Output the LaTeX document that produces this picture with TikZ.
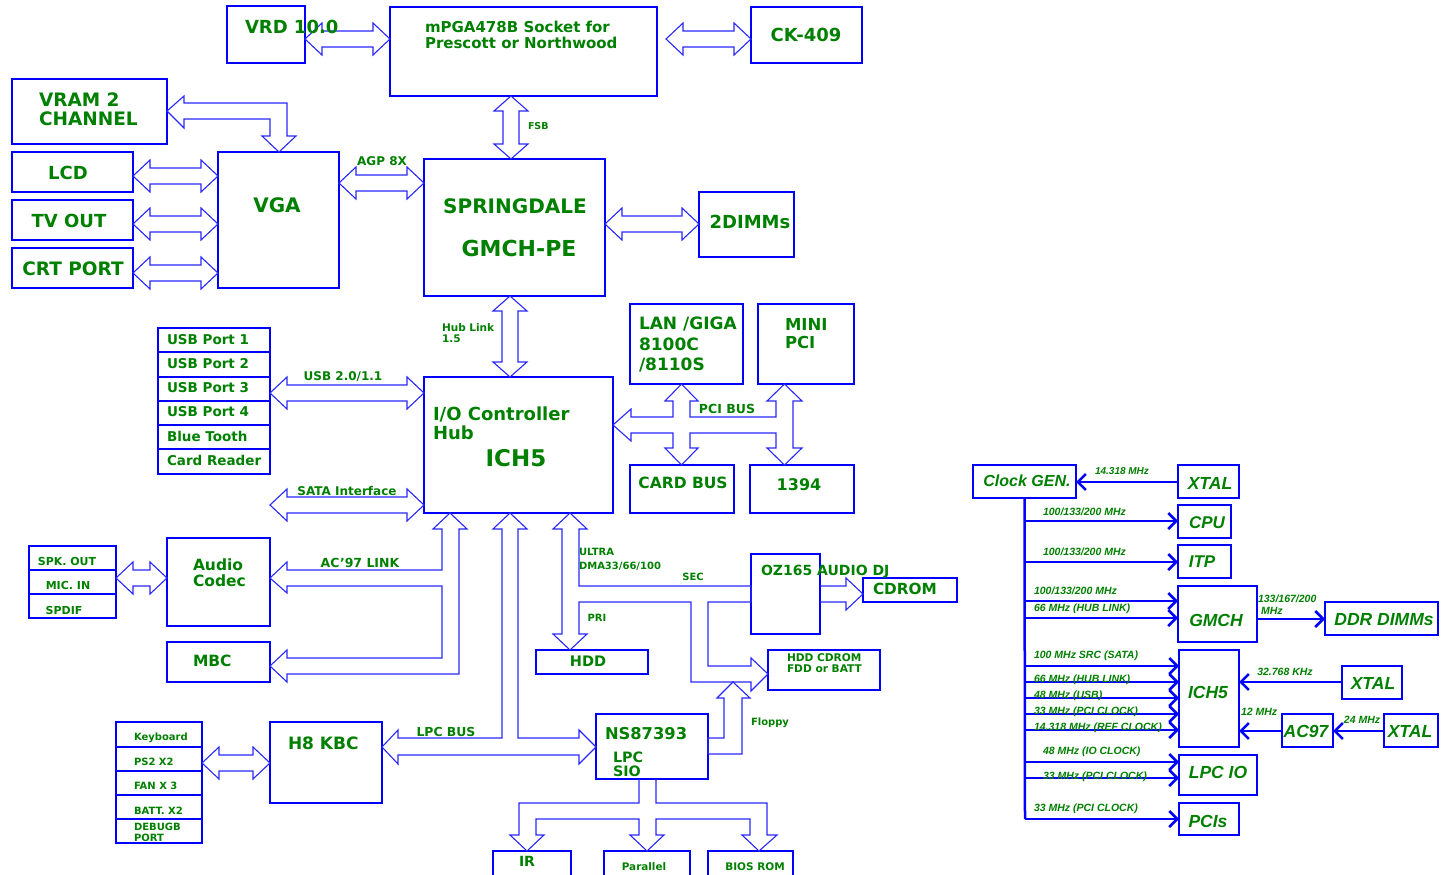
\documentclass[tikz,border=0pt]{standalone}
\usepackage{fontspec}
\setmainfont{DejaVu Sans}
\newfontfamily\libsans{Liberation Sans}
\usetikzlibrary{calc,arrows.meta}
\definecolor{tg}{RGB}{0,128,0}
\definecolor{bb}{RGB}{0,0,255}
\definecolor{ab}{RGB}{40,40,255}
\newcommand\fs[1]{\fontsize{#1}{#1}\selectfont\bfseries}
\newcommand\cfs[1]{\libsans\fontsize{#1}{#1}\selectfont\bfseries\itshape}
\tikzset{
 box/.style={draw=bb,line width=2.5pt,rectangle,inner sep=0pt,outer sep=0pt},
 txt/.style={text=tg,inner sep=0pt,outer sep=0pt},
 barrow/.style={draw=ab,line width=1.1pt,line join=miter},
 clk/.style={draw=bb,line width=2.5pt},
 clkarr/.style={clk,-{Straight Barb[length=8pt,width=16pt]}},
}
\newcommand\bx[6][]{\node[box,#1,minimum width={(#4-#2)*1pt},minimum height={(#5-#3)*1pt}] (#6) at ({(#2+#4)/2},{(#3+#5)/2}) {};}
\newcommand\tx[6][]{\node[txt,#1,font=\fs{#2}] (#3) at (#4,#5) {#6};}
\newcommand\ct[6][]{\node[txt,#1,font=\cfs{#2}] (#3) at (#4,#5) {#6};}
\newcommand\HDA[3]{\draw[barrow] let \p1=(#1), \p2=(#2) in
 (\x1,-#3pt) -- (\x1+17pt,-#3pt+16pt) -- (\x1+17pt,-#3pt+8pt) -- (\x2-17pt,-#3pt+8pt) -- (\x2-17pt,-#3pt+16pt) -- (\x2,-#3pt) -- (\x2-17pt,-#3pt-16pt) -- (\x2-17pt,-#3pt-8pt) -- (\x1+17pt,-#3pt-8pt) -- (\x1+17pt,-#3pt-16pt) -- cycle;}
\newcommand\VDA[3]{\draw[barrow] let \p1=(#1), \p2=(#2) in
 (#3pt,\y1) -- (#3pt+17pt,\y1-15pt) -- (#3pt+8pt,\y1-15pt) -- (#3pt+8pt,\y2+15pt) -- (#3pt+17pt,\y2+15pt) -- (#3pt,\y2) -- (#3pt-17pt,\y2+15pt) -- (#3pt-8pt,\y2+15pt) -- (#3pt-8pt,\y1-15pt) -- (#3pt-17pt,\y1-15pt) -- cycle;}
\begin{document}
\begin{tikzpicture}[x=1pt,y=-1pt]
\useasboundingbox (0,0) rectangle (1443,875);
\fill[white] (0,0) rectangle (1443,875);
\clip (0,0) rectangle (1443,875);
% ---------- boxes ----------
\bx{227}{6}{305}{63}{vrd}
\bx{390}{7}{657}{96}{mpga}
\bx{751}{7}{862}{63}{ck}
\bx{12}{79}{167}{144}{vram}
\bx{12}{152}{133}{192}{lcd}
\bx{12}{200}{133}{240}{tvout}
\bx{12}{248}{133}{288}{crt}
\bx{218}{152}{339}{288}{vga}
\bx{424}{159}{605}{296}{gmch}
\bx{699}{192}{794}{257}{dimm}
\bx{158}{328}{270}{352}{usbA}
\bx{158}{352}{270}{377}{usbB}
\bx{158}{377}{270}{401}{usbC}
\bx{158}{401}{270}{425}{usbD}
\bx{158}{425}{270}{449}{bt}
\bx{158}{449}{270}{474}{cr}
\bx{424}{377}{613}{513}{ich}
\bx{630}{304}{743}{384}{lan}
\bx{758}{304}{854}{384}{mini}
\bx{630}{465}{734}{513}{card}
\bx{750}{465}{854}{513}{fw}
\bx{29}{546}{116}{570}{spk}
\bx{29}{570}{116}{594}{mic}
\bx{29}{594}{116}{618}{spdif}
\bx{167}{538}{270}{626}{audio}
\bx{167}{642}{270}{682}{mbc}
\bx{536}{650}{648}{674}{hdd}
\bx{751}{554}{820}{634}{oz}
\bx{863}{578}{957}{602}{cdrom}
\bx{768}{650}{880}{690}{hddcd}
\bx{116}{722}{202}{747}{kbd}
\bx{116}{747}{202}{771}{ps2}
\bx{116}{771}{202}{795}{fan}
\bx{116}{795}{202}{819}{batt}
\bx{116}{819}{202}{843}{dbg}
\bx{270}{722}{382}{803}{kbc}
\bx{596}{714}{708}{779}{sio}
\bx{493}{851}{571}{905}{ir}
\bx{604}{851}{690}{905}{par}
\bx{708}{851}{793}{905}{bios}
% clock section boxes
\bx{973}{465}{1076}{498}{cgen}
\bx{1178}{465}{1239}{498}{xtA}
\bx{1178}{505}{1231}{538}{cpu}
\bx{1178}{545}{1231}{578}{itp}
\bx{1178}{586}{1257}{642}{cgm}
\bx{1325}{602}{1438}{635}{ddr}
\bx{1179}{650}{1239}{747}{cich}
\bx{1342}{666}{1402}{699}{xtB}
\bx{1282}{714}{1333}{747}{ac}
\bx{1384}{714}{1438}{747}{xtC}
\bx{1179}{755}{1257}{795}{lpcio}
\bx{1179}{803}{1239}{835}{pcis}
% ---------- block arrows ----------
\HDA{vrd.east}{mpga.west}{39}
\HDA{$(mpga.east)+(9,0)$}{ck.west}{39}
\draw[barrow] (vram.east |- 0,111) -- (184,96) -- (184,103) -- (287,103) -- (287,136) -- (296,136) -- (279,152) -- (262,136) -- (270,136) -- (270,119) -- (184,119) -- (184,128) -- cycle;
\HDA{lcd.east}{vga.west}{176}
\HDA{tvout.east}{vga.west}{224}
\HDA{crt.east}{vga.west}{273}
\HDA{vga.east}{gmch.west}{183}
\VDA{mpga.south}{gmch.north}{511}
\HDA{gmch.east}{dimm.west}{224}
\VDA{gmch.south}{ich.north}{510}
\HDA{usbC.east}{ich.west}{393}
\coordinate (sataL) at (270,505);
\HDA{sataL}{ich.west}{505}
\draw[barrow] (ich.east |- 0,425) -- (631,409) -- (631,417) -- (673,417) -- (673,401) -- (665,401) -- (681.5,384) -- (698,401) -- (690,401) -- (690,417) -- (776,417) -- (776,401) -- (767,401) -- (784.5,384) -- (802,401) -- (793,401) -- (793,448) -- (802,448) -- (784.5,465) -- (767,448) -- (776,448) -- (776,433) -- (690,433) -- (690,448) -- (698,448) -- (681.5,465) -- (665,448) -- (673,448) -- (673,433) -- (631,433) -- (631,441) -- cycle;
\HDA{mic.east}{audio.west}{578}
\draw[barrow] (450,513) -- (467,529) -- (459,529) -- (459,674) -- (287,674) -- (287,682) -- (270,666) -- (287,650) -- (287,658) -- (442,658) -- (442,586) -- (287,586) -- (287,593) -- (270,578) -- (287,562) -- (287,570) -- (442,570) -- (442,529) -- (433,529) -- cycle;
\draw[barrow] (510,513) -- (527,529) -- (518,529) -- (518,738) -- (579,738) -- (579,730) -- (596,747) -- (579,764) -- (579,755) -- (398,755) -- (398,764) -- (382,747) -- (398,730) -- (398,738) -- (502,738) -- (502,529) -- (493,529) -- cycle;
\draw[barrow] (570,513) -- (587,529) -- (579,529) -- (579,586) -- (751,586) -- (751,602) -- (708,602) -- (708,666) -- (751,666) -- (751,658) -- (768,674) -- (751,691) -- (751,682) -- (691,682) -- (691,602) -- (579,602) -- (579,634) -- (587,634) -- (570,650) -- (553,634) -- (562,634) -- (562,529) -- (553,529) -- cycle;
\draw[barrow] (733,682) -- (750,698) -- (742,698) -- (742,754) -- (708,754) -- (708,738) -- (724,738) -- (724,698) -- (717,698) -- cycle;
\draw[barrow] (oz.east |- 0,586) -- (846,586) -- (846,578) -- (863,594) -- (846,610) -- (846,602) -- (oz.east |- 0,602);
\HDA{ps2.east}{kbc.west}{763}
\draw[barrow] (639,779) -- (639,803) -- (519,803) -- (519,835) -- (510,835) -- (527,851) -- (544,835) -- (536,835) -- (536,819) -- (639,819) -- (639,835) -- (630,835) -- (647,851) -- (664,835) -- (656,835) -- (656,819) -- (750,819) -- (750,835) -- (742,835) -- (759,851) -- (777,835) -- (767,835) -- (767,803) -- (656,803) -- (656,779);
% ---------- clock connectors ----------
\draw[clk] (cgen.south) -- (1025,819);
\draw[clkarr] (1025,819) -- (pcis.west |- 0,819);
\draw[clkarr] (xtA.west |- 0,482) -- (cgen.east |- 0,482);
\draw[clkarr] (1025,521) -- (cpu.west |- 0,521);
\draw[clkarr] (1025,562) -- (itp.west |- 0,562);
\draw[clkarr] (1025,601) -- (cgm.west |- 0,601);
\draw[clkarr] (1025,618) -- (cgm.west |- 0,618);
\draw[clkarr] (cgm.east |- 0,619) -- (ddr.west |- 0,619);
\draw[clkarr] (1025,666) -- (cich.west |- 0,666);
\draw[clkarr] (1025,682) -- (cich.west |- 0,682);
\draw[clkarr] (1025,698) -- (cich.west |- 0,698);
\draw[clkarr] (1025,714) -- (cich.west |- 0,714);
\draw[clkarr] (1025,730) -- (cich.west |- 0,730);
\draw[clkarr] (xtB.west |- 0,682) -- (cich.east |- 0,682);
\draw[clkarr] (ac.west |- 0,731) -- (cich.east |- 0,731);
\draw[clkarr] (xtC.west |- 0,731) -- (ac.east |- 0,731);
\draw[clkarr] (1025,762) -- (lpcio.west |- 0,762);
\draw[clkarr] (1025,778) -- (lpcio.west |- 0,778);
% ---------- texts ----------
\tx[anchor=west]{18}{tvrd}{245}{27}{VRD 10.0}
\tx[anchor=west]{15}{tmp1}{425}{27}{mPGA478B Socket for}
\tx[anchor=west]{15}{tmp2}{425}{43}{Prescott or Northwood}
\tx{18}{tck}{806}{35}{CK-409}
\tx[anchor=west]{9.5}{tfsb}{528}{126}{FSB}
\tx{12}{tagp}{382}{161}{AGP 8X}
\tx{20}{tsd}{515}{206}{SPRINGDALE}
\tx{22}{tgm}{519}{248}{GMCH-PE}
\tx{18}{tdimm}{750}{222}{2DIMMs}
\tx[anchor=west]{18.5}{tvr1}{39}{100}{VRAM 2}
\tx[anchor=west]{18.5}{tvr2}{39}{119}{CHANNEL}
\tx{20}{tvga}{277}{205}{VGA}
\tx{18}{tlcd}{68}{173}{LCD}
\tx{18}{ttv}{69}{221}{TV OUT}
\tx{18.5}{tcrt}{73}{269}{CRT PORT}
\tx[anchor=west]{10.5}{thl1}{442}{328}{Hub Link}
\tx[anchor=west]{10.5}{thl2}{442}{339}{1.5}
\tx[anchor=west]{13.5}{tu1}{167}{340}{USB Port 1}
\tx[anchor=west]{13.5}{tu2}{167}{364}{USB Port 2}
\tx[anchor=west]{13.5}{tu3}{167}{388}{USB Port 3}
\tx[anchor=west]{13.5}{tu4}{167}{412}{USB Port 4}
\tx[anchor=west]{13.5}{tbt}{167}{436}{Blue Tooth}
\tx[anchor=west]{13.5}{tcr}{167}{460}{Card Reader}
\tx{12}{tusb}{343}{377}{USB 2.0/1.1}
\tx{12}{tsata}{347}{491}{SATA Interface}
\tx[anchor=west]{18}{tio1}{433}{414}{I/O Controller}
\tx[anchor=west]{18}{tio2}{433}{433}{Hub}
\tx{23}{tich}{516}{458}{ICH5}
\tx[anchor=west]{17}{tlan1}{639}{324}{LAN /GIGA}
\tx[anchor=west]{17}{tlan2}{639}{344}{8100C}
\tx[anchor=west]{17}{tlan3}{639}{365}{/8110S}
\tx[anchor=west]{16.5}{tmini1}{785}{324}{MINI}
\tx[anchor=west]{16.5}{tmini2}{785}{342}{PCI}
\tx{12.5}{tpci}{727}{409}{PCI BUS}
\tx{15.5}{tcard}{683}{483}{CARD BUS}
\tx{16}{tfw}{799}{485}{1394}
\tx{11}{tspk}{67}{561}{SPK. OUT}
\tx{11}{tmic}{68}{585}{MIC. IN}
\tx{11}{tspd}{64}{610}{SPDIF}
\tx[anchor=west]{15.5}{tau1}{193}{565}{Audio}
\tx[anchor=west]{15.5}{tau2}{193}{581}{Codec}
\tx[anchor=west]{15.5}{tmbc}{193}{661}{MBC}
\tx{12.5}{tac}{360}{563}{AC’97 LINK}
\tx[anchor=west]{10}{tul}{579}{552}{ULTRA}
\tx[anchor=west]{10}{tdma}{579}{566}{DMA33/66/100}
\tx{10}{tsec}{693}{577}{SEC}
\tx{10}{tpri}{597}{618}{PRI}
\tx{14.5}{thdd}{588}{661}{HDD}
\tx[anchor=west]{14}{toz}{761}{572}{OZ165 AUDIO DJ}
\tx[anchor=west]{15.3}{tcd}{873}{589}{CDROM}
\tx[anchor=west]{10.6}{thc1}{787}{658}{HDD CDROM}
\tx[anchor=west]{10.6}{thc2}{787}{669}{FDD or BATT}
\tx[anchor=west]{10}{tflop}{751}{723}{Floppy}
\tx[anchor=west]{16.3}{tns}{605}{734}{NS87393}
\tx[anchor=west]{14.3}{tlpc}{613}{757}{LPC}
\tx[anchor=west]{14.3}{tsio}{613}{771}{SIO}
\tx{12.4}{tlpcb}{446}{732}{LPC BUS}
\tx[anchor=west]{17}{th8}{288}{743}{H8 KBC}
\tx[anchor=west]{10}{tkb}{134}{738}{Keyboard}
\tx[anchor=west]{10}{tps}{134}{762}{PS2 X2}
\tx[anchor=west]{10}{tfan}{134}{786}{FAN X 3}
\tx[anchor=west]{10}{tbat}{134}{811}{BATT. X2}
\tx[anchor=west]{10}{tdb1}{134}{827}{DEBUGB}
\tx[anchor=west]{10}{tdb2}{134}{838}{PORT}
\tx{14}{tir}{527}{861}{IR}
\tx{10.4}{tpar}{644}{867}{Parallel}
\tx{10.5}{tbios}{755}{867}{BIOS ROM}
% clock texts
\ct{16}{tcg}{1027}{481}{Clock GEN.}
\ct{17.5}{txa}{1210}{483}{XTAL}
\ct{17}{tcpu}{1207}{523}{CPU}
\ct{17}{titp}{1202}{562}{ITP}
\ct{17.5}{tcgm}{1216}{620}{GMCH}
\ct{17.5}{tddr}{1384}{620}{DDR DIMMs}
\ct{17.5}{tcich}{1208}{692}{ICH5}
\ct{17.5}{txb}{1373}{683}{XTAL}
\ct{17.5}{tac97}{1306}{731}{AC97}
\ct{17.5}{txc}{1410}{731}{XTAL}
\ct{17.5}{tlio}{1218}{772}{LPC IO}
\ct{17.5}{tpcis}{1208}{821}{PCIs}
\ct{10}{l1}{1122}{471}{14.318 MHz}
\ct[anchor=west]{10.5}{l2}{1043}{512}{100/133/200 MHz}
\ct[anchor=west]{10.5}{l3}{1043}{552}{100/133/200 MHz}
\ct[anchor=west]{10.5}{l4}{1034}{591}{100/133/200 MHz}
\ct[anchor=west]{10.5}{l5}{1034}{609}{66 MHz (HUB LINK)}
\ct[anchor=west]{10.5}{l6}{1258}{599}{133/167/200}
\ct[anchor=west]{10.5}{l7}{1261}{611}{MHz}
\ct[anchor=west]{10.5}{l8}{1034}{656}{100 MHz SRC (SATA)}
\ct[anchor=west]{10.5}{l9}{1034}{680}{66 MHz (HUB LINK)}
\ct[anchor=west]{10.5}{l10}{1034}{696}{48 MHz (USB)}
\ct[anchor=west]{10.5}{l11}{1034}{712}{33 MHz (PCI CLOCK)}
\ct[anchor=west]{10.5}{l12}{1034}{728}{14.318 MHz (REF CLOCK)}
\ct{10.5}{l13}{1285}{672}{32.768 KHz}
\ct[anchor=west]{10.5}{l14}{1241}{712}{12 MHz}
\ct{10.5}{l15}{1362}{720}{24 MHz}
\ct[anchor=west]{10.5}{l16}{1043}{752}{48 MHz (IO CLOCK)}
\ct[anchor=west]{10.5}{l17}{1043}{777}{33 MHz (PCI CLOCK)}
\ct[anchor=west]{10.5}{l18}{1034}{809}{33 MHz (PCI CLOCK)}
\end{tikzpicture}
\end{document}
